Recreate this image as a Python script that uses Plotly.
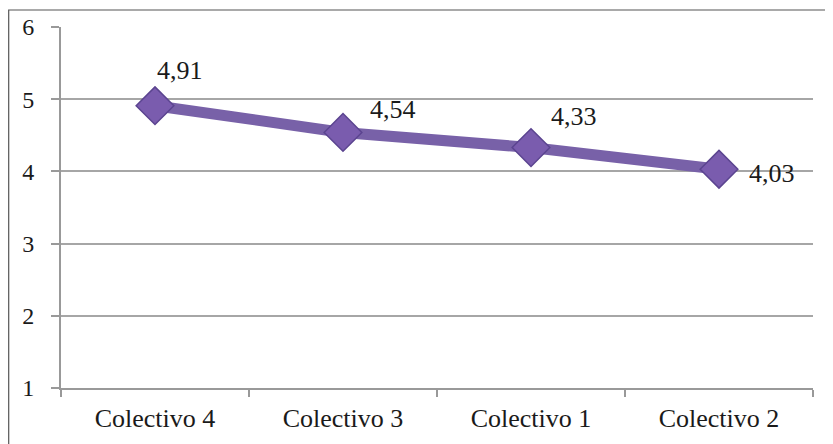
import plotly.graph_objects as go

categories = ["Colectivo 4", "Colectivo 3", "Colectivo 1", "Colectivo 2"]
values = [4.91, 4.54, 4.33, 4.03]
labels = ["4,91", "4,54", "4,33", "4,03"]
label_shift = [(25, 35), (50, 23), (43, 31), (53, -4)]

SERIF = "Liberation Serif"

fig = go.Figure()
fig.add_trace(go.Scatter(
    x=categories, y=values, mode="lines+markers",
    line=dict(color="#7861a8", width=11),
    marker=dict(symbol="diamond", size=29, color="#7a5cae",
                line=dict(color="#5b4490", width=1.5)),
    hoverinfo="skip", showlegend=False,
))

for c, v, t, (dx, dy) in zip(categories, values, labels, label_shift):
    fig.add_annotation(x=c, y=v, text=t, showarrow=False, xshift=dx, yshift=dy,
                       font=dict(family=SERIF, size=26, color="#1a1a1a"))

# page body has an 8px margin, so margins are reduced accordingly
L, T, PW, PH = 53, 19, 752, 361
fig.add_shape(type="rect", xref="paper", yref="paper",
              x0=(0.7 - L) / PW, x1=(818 - L) / PW, y0=-0.3, y1=(T + PH - 2) / PH,
              line=dict(color="#555555", width=1.2), fillcolor="rgba(0,0,0,0)")

fig.update_layout(
    width=833, height=444,
    margin=dict(l=L, r=833 - L - PW, t=T, b=444 - T - PH, autoexpand=False),
    paper_bgcolor="white", plot_bgcolor="white",
    font=dict(family=SERIF, size=24, color="#1a1a1a"),
    xaxis=dict(type="category", showgrid=False, showline=True, linecolor="#999999",
               linewidth=2, ticks="outside", tickson="boundaries", ticklen=7,
               tickcolor="#999999", tickwidth=1.5, range=[-0.5, 3.5],
               tickfont=dict(family=SERIF, size=26), ticklabelstandoff=6,
               automargin=False),
    yaxis=dict(range=[1, 6], dtick=1, showgrid=True, gridcolor="#a6a6a6", gridwidth=1.5,
               showline=True, linecolor="#999999", linewidth=2, ticks="outside",
               ticklen=8, tickcolor="#999999", tickwidth=1.5, zeroline=False,
               tickfont=dict(family=SERIF, size=24), ticklabelstandoff=12,
               automargin=False),
)

fig.write_html("out.html")
